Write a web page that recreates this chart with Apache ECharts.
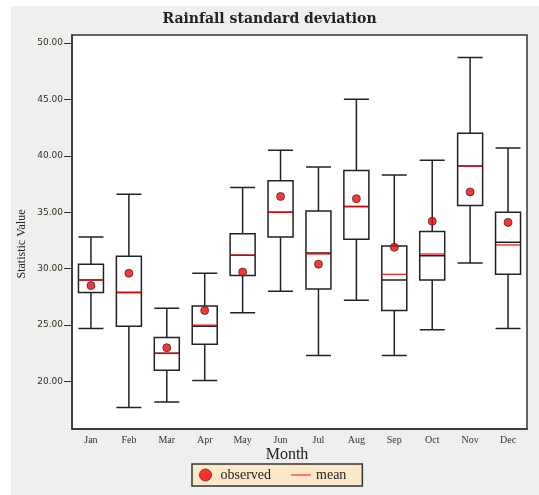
<!DOCTYPE html>
<html>
<head>
<meta charset="utf-8">
<script src="https://cdn.jsdelivr.net/npm/echarts@6/dist/echarts.min.js"></script>
<style>
  html, body { margin: 0; padding: 0; background: #fff; }
  #show { width: 539px; height: 495px; }
</style>
</head>
<body>
<div id="show"></div>
<script>
var myChart = echarts.init(document.getElementById("show"));

// values
var months = ['Jan', 'Feb', 'Mar', 'Apr', 'May', 'Jun', 'Jul', 'Aug', 'Sep', 'Oct', 'Nov', 'Dec'];
var whiskerLow = [24.7, 17.7, 18.2, 20.1, 26.1, 28.0, 22.3, 27.2, 22.3, 24.6, 30.5, 24.7];
var q1 = [27.9, 24.9, 21.0, 23.3, 29.4, 32.8, 28.2, 32.6, 26.3, 29.0, 35.6, 29.5];
var median = [29.0, 27.9, 22.5, 24.9, 31.2, 35.0, 31.4, 35.5, 29.0, 31.15, 39.1, 32.35];
var q3 = [30.4, 31.1, 23.9, 26.7, 33.1, 37.8, 35.1, 38.7, 32.0, 33.3, 42.0, 35.0];
var whiskerHigh = [32.8, 36.6, 26.5, 29.6, 37.2, 40.5, 39.0, 45.0, 38.3, 39.6, 48.7, 40.7];
var mean = [29.0, 27.9, 22.5, 25.0, 31.2, 35.0, 31.3, 35.5, 29.5, 31.3, 39.1, 32.1];
var observed = [28.5, 29.6, 23.0, 26.3, 29.7, 36.4, 30.4, 36.2, 31.9, 34.2, 36.8, 34.1];
var yTicks = [20, 25, 30, 35, 40, 45, 50];

var boxData = months.map(function (m, i) {
    return [whiskerLow[i], q1[i], median[i], q3[i], whiskerHigh[i]];
});

var serif = '"Liberation Serif", "DejaVu Serif", serif';

myChart.setOption(option = {
    animation: false,
    graphic: [
        {
            type: 'rect',
            shape: { x: 11, y: 6, width: 528, height: 489 },
            style: { fill: '#efefef' },
            z: -10
        },
        {
            type: 'text',
            x: 22, y: 244,
            rotation: Math.PI / 2,
            style: {
                text: 'Statistic Value',
                fontFamily: serif,
                fontSize: 12,
                fill: '#222',
                align: 'center',
                verticalAlign: 'middle'
            }
        },
        {
            type: 'text',
            x: 287, y: 455,
            style: {
                text: 'Month',
                fontFamily: serif,
                fontSize: 16,
                fill: '#222',
                align: 'center',
                verticalAlign: 'middle'
            }
        }
    ],
    title: {
        text: 'Rainfall standard deviation',
        left: 'center',
        top: 7,
        textStyle: {
            fontFamily: '"DejaVu Serif", serif',
            fontSize: 14,
            fontWeight: 'bold',
            color: '#222'
        }
    },
    legend: {
        left: 192,
        top: 464,
        padding: [4, 16, 4, 7],
        itemGap: 20,
        itemWidth: 20,
        itemHeight: 12,
        backgroundColor: '#fde9c9',
        borderColor: '#333',
        borderWidth: 1.5,
        borderRadius: 0,
        textStyle: { fontFamily: serif, fontSize: 14, color: '#222' },
        data: [
            { name: 'observed', icon: 'circle', itemStyle: { color: '#ff0000', borderColor: '#333', borderWidth: 1 } },
            { name: 'mean', icon: 'path://M0,0H20V1.2H0Z', itemStyle: { color: '#ff0000' } }
        ]
    },
    grid: {
        left: 72,
        top: 35,
        width: 455,
        height: 394,
        show: true,
        backgroundColor: '#fff',
        borderColor: '#333',
        borderWidth: 1.5
    },
    xAxis: {
        type: 'category',
        data: months,
        boundaryGap: true,
        axisLine: { lineStyle: { color: '#333', width: 1.5 } },
        axisTick: { alignWithLabel: true, length: 5, lineStyle: { color: '#333' } },
        axisLabel: { fontFamily: serif, fontSize: 10, color: '#333', margin: 6 },
        splitLine: { show: false }
    },
    yAxis: {
        type: 'value',
        min: 15.8,
        max: 50.7,
        axisLine: { show: true, lineStyle: { color: '#333', width: 1.5 } },
        axisTick: { show: true, length: 8, customValues: yTicks, lineStyle: { color: '#333' } },
        axisLabel: {
            customValues: yTicks,
            fontFamily: '"DejaVu Sans", sans-serif',
            fontSize: 9,
            color: '#3a3020',
            margin: 9,
            formatter: function (v) { return v.toFixed(2); }
        },
        splitLine: { show: false }
    },
    series: [
        {
            name: 'box',
            type: 'boxplot',
            data: boxData,
            boxWidth: [25, 25],
            itemStyle: { color: '#fff', borderColor: '#222', borderWidth: 1.5 }
        },
        {
            name: 'mean',
            type: 'scatter',
            data: mean,
            symbol: 'rect',
            symbolSize: [24, 1.5],
            itemStyle: { color: '#ff0000', opacity: 0.8 },
            z: 5
        },
        {
            name: 'observed',
            type: 'scatter',
            data: observed,
            symbol: 'circle',
            symbolSize: 8,
            itemStyle: { color: '#ff0000', borderColor: '#333', borderWidth: 1 },
            z: 6
        }
    ]
});
</script>
</body>
</html>
